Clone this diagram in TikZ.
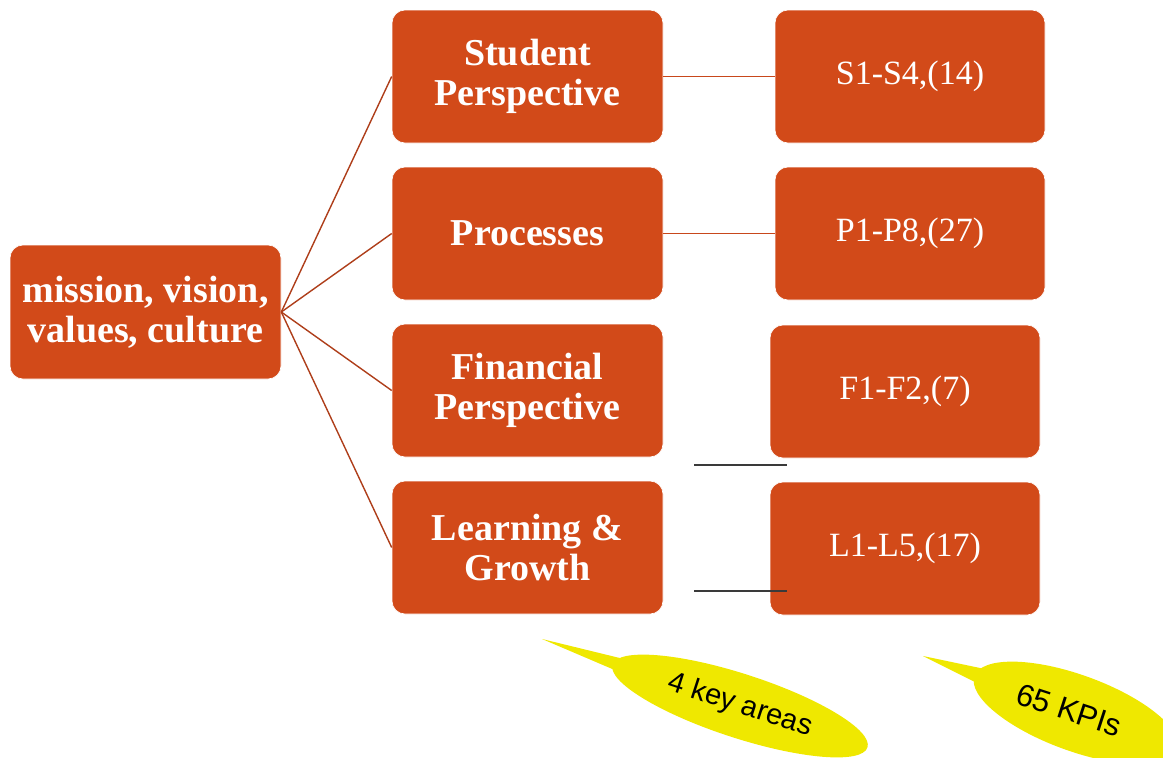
\documentclass[tikz,border=0pt]{standalone}
\usepackage{fontspec}
\setmainfont{Liberation Serif}
\setsansfont{Liberation Sans}
\usepackage{xcolor}
\usepackage{tikz}
\usetikzlibrary{shapes.geometric}
\definecolor{boxbg}{HTML}{D24A19}
\definecolor{link}{HTML}{AE3E1A}
\definecolor{linkb}{HTML}{C8471B}
\definecolor{bar}{HTML}{3A3A3A}
\definecolor{note}{HTML}{EFE800}
\tikzset{
  area/.style={rectangle, rounded corners=13pt, fill=boxbg, draw=white, line width=0.6pt, text=white, align=center, minimum width=271pt, minimum height=133pt, inner sep=2pt, font=\bfseries\fontsize{38}{40}\selectfont},
  kpi/.style={area, minimum width=270pt, font=\fontsize{34}{38}\selectfont},
  edge/.style={draw=link, line width=1.4pt},
  edgeb/.style={draw=linkb, line width=1.6pt},
  barl/.style={draw=bar, line width=1.4pt},
  callout/.style={ellipse, fill=note, inner sep=0pt, text=black, font=\sffamily\fontsize{29}{31}\selectfont},
}
\begin{document}
\begin{tikzpicture}[x=1pt,y=-1pt]
  \useasboundingbox (0,0) rectangle (1163,758);
  \node[area, minimum height=134pt] (core) at (145.5,312) {mission, vision,\\values, culture};
  \node[area] (stu) at (527.5,76.5) {Student\\Perspective};
  \node[area] (pro) at (527.5,233.5) {Processes};
  \node[area] (fin) at (527.5,390.5) {Financial\\Perspective};
  \node[area] (lea) at (527.5,547.5) {Learning \&\\Growth};
  \node[kpi] (s) at (910,76.5) {S1-S4,(14)};
  \node[kpi] (p) at (910,233.5) {P1-P8,(27)};
  \node[kpi] (f) at (905,391.5) {F1-F2,(7)};
  \node[kpi] (l) at (905,548.5) {L1-L5,(17)};
  \foreach \n in {stu,pro,fin,lea}
    \draw[edge] (core.east) -- (\n.west);
  \draw[edgeb] (stu.east) -- (s.west);
  \draw[edgeb] (pro.east) -- (p.west);
  \coordinate (fa) at (694,465); \coordinate (fb) at (787,465);
  \coordinate (la) at (694,591); \coordinate (lb) at (787,591);
  \draw[barl] (fa) -- (fb);
  \draw[barl] (la) -- (lb);
  \coordinate (tip1) at (542,639);
  \coordinate (tip2) at (923,656);
  \fill[note] (tip1) -- (628,660) -- (624,674) -- cycle;
  \fill[note] (tip2) -- (992,670.5) -- (987,688) -- cycle;
  \node[callout, minimum width=268pt, minimum height=64pt, rotate=-18] (areas) at (740,706) {4 key areas};
  \node[callout, minimum width=216pt, minimum height=76pt, rotate=-20] (kpis) at (1076,713) {};
  \node[rotate=-18, font=\sffamily\fontsize{31}{33}\selectfont] (kpit) at (1069,710) {65 KPIs};
\end{tikzpicture}
\end{document}
